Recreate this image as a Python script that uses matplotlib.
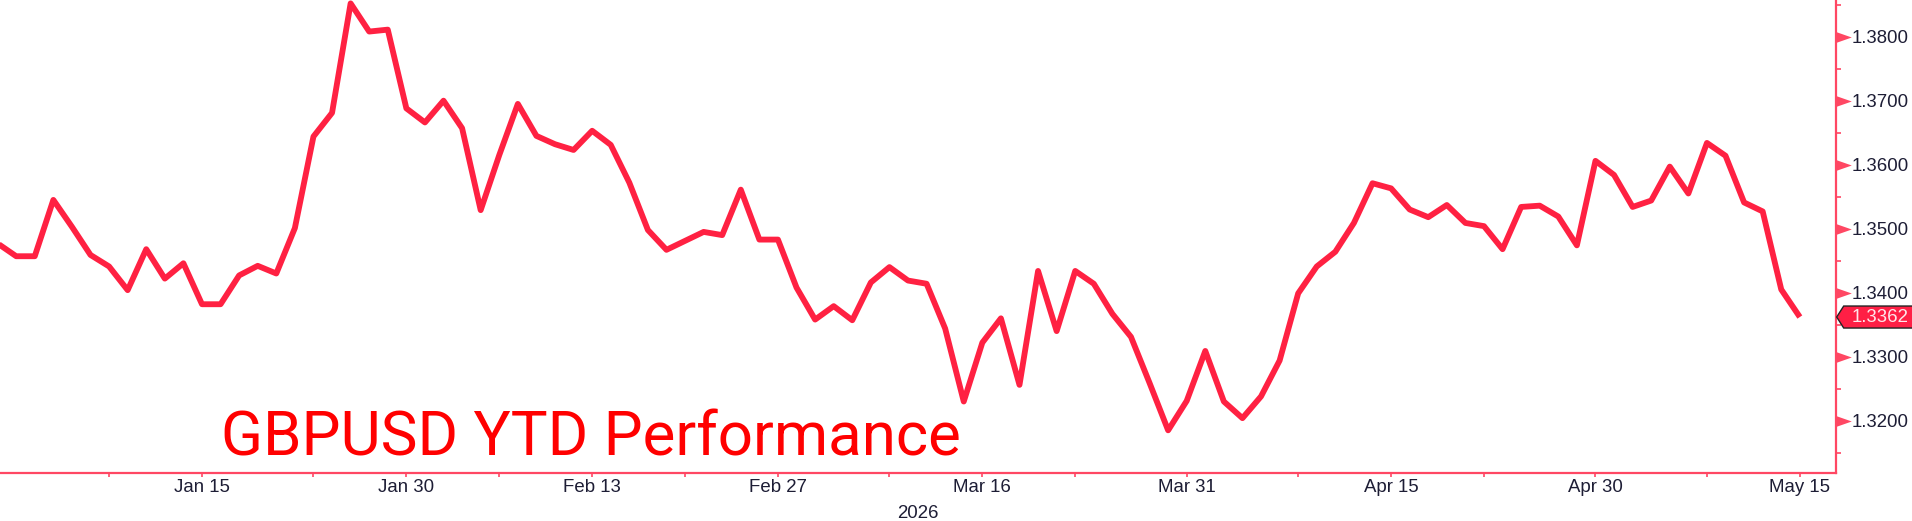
import numpy as np
import pandas as pd
import matplotlib
matplotlib.use("Agg")
import matplotlib.pyplot as plt
from matplotlib.patches import Polygon
from matplotlib.path import Path
from matplotlib.transforms import IdentityTransform
import matplotlib.ticker as mticker

# ---------------- data ----------------
dates = pd.bdate_range("2025-12-31", "2026-05-15")  # weekday series
values = [
    1.3477, 1.3457, 1.3457, 1.3545, 1.3503, 1.3459, 1.3441, 1.3404, 1.3468, 1.3422,
    1.3446, 1.3382, 1.3382, 1.3427, 1.3442, 1.3430, 1.3501, 1.3644, 1.3681, 1.3852,
    1.3808, 1.3811, 1.3688, 1.3666, 1.3700, 1.3657, 1.3529, 1.3615, 1.3695, 1.3645,
    1.3632, 1.3623, 1.3653, 1.3631, 1.3572, 1.3498, 1.3467, 1.3481, 1.3495, 1.3490,
    1.3561, 1.3483, 1.3483, 1.3408, 1.3358, 1.3379, 1.3357, 1.3416, 1.3440, 1.3419,
    1.3414, 1.3344, 1.3230, 1.3322, 1.3360, 1.3256, 1.3434, 1.3340, 1.3434, 1.3414,
    1.3367, 1.3331, 1.3259, 1.3185, 1.3231, 1.3309, 1.3230, 1.3204, 1.3238, 1.3294,
    1.3399, 1.3441, 1.3464, 1.3509, 1.3571, 1.3563, 1.3530, 1.3518, 1.3537, 1.3509,
    1.3504, 1.3468, 1.3534, 1.3536, 1.3519, 1.3474, 1.3606, 1.3584, 1.3534, 1.3544,
    1.3597, 1.3555, 1.3634, 1.3614, 1.3541, 1.3527, 1.3405, 1.3362,
]
major_tick_dates = ["2026-01-15", "2026-01-30", "2026-02-13", "2026-02-27", "2026-03-16",
                    "2026-03-31", "2026-04-15", "2026-04-30", "2026-05-15"]
major_tick_labels = ["Jan 15", "Jan 30", "Feb 13", "Feb 27", "Mar 16",
                     "Mar 31", "Apr 15", "Apr 30", "May 15"]
minor_tick_dates = ["2026-01-08", "2026-01-23", "2026-02-06", "2026-02-20", "2026-03-09",
                    "2026-03-23", "2026-04-08", "2026-04-22", "2026-05-08"]
y_major = [1.32, 1.33, 1.34, 1.35, 1.36, 1.37, 1.38]
y_minor = [1.315, 1.325, 1.335, 1.345, 1.355, 1.365, 1.375, 1.385]
title = "GBPUSD YTD Performance"
year_label = "2026"
last_value = values[-1]

# ---------------- style ----------------
W, H, DPI = 1912, 521, 100
LINE = "#ff2142"
SPINE = "#ff4763"
TXT = "#1d1d35"
FONT = "Liberation Sans"

fig = plt.figure(figsize=(W / DPI, H / DPI), dpi=DPI)
ax_left, ax_right = 0.0, 1835.7 / W
ax_bot = 472.7
ax = fig.add_axes([ax_left, 1 - ax_bot / H, ax_right - ax_left, ax_bot / H])

idx = {d: i for i, d in enumerate(dates)}
x = np.arange(len(dates))
ax.plot(x, values, color=LINE, lw=4.2, solid_joinstyle="round", solid_capstyle="butt", zorder=3)

ax.set_xlim(0.129, 98.93)
ax.set_ylim(1.31188, 1.38573)

# spines
for s in ["left", "top"]:
    ax.spines[s].set_visible(False)
for s in ["bottom", "right"]:
    ax.spines[s].set_color(SPINE)
    ax.spines[s].set_linewidth(1.6)

# x ticks
ax.set_xticks([idx[pd.Timestamp(d)] for d in major_tick_dates])
ax.set_xticklabels(major_tick_labels)
ax.set_xticks([idx[pd.Timestamp(d)] for d in minor_tick_dates], minor=True)
ax.tick_params(axis="x", which="both", direction="out", length=3.2, width=1.2,
               color=SPINE, pad=1.5, labelsize=13.4, labelcolor=TXT)
for lab in ax.get_xticklabels():
    lab.set_fontfamily(FONT)

# y ticks on right
ax.yaxis.tick_right()
ax.set_yticks(y_major)
ax.yaxis.set_major_formatter(mticker.FuncFormatter(lambda v, p: f"{v:.4f}"))
ax.set_yticks(y_minor, minor=True)
ax.tick_params(axis="y", which="major", length=0, pad=11.5, labelsize=13.4, labelcolor=TXT)
ax.tick_params(axis="y", which="minor", direction="out", length=3.6, width=1.2, color=SPINE)
for lab in ax.get_yticklabels():
    lab.set_fontfamily(FONT)

# triangular major tick markers
tri = Path([(0, -0.35), (1, 0), (0, 0.35), (0, -0.35)],
           [Path.MOVETO, Path.LINETO, Path.LINETO, Path.CLOSEPOLY])
ax.scatter([1.0] * len(y_major), y_major, marker=tri, s=22 ** 2, color=SPINE,
           linewidths=0, transform=ax.get_yaxis_transform(), clip_on=False, zorder=4)

# title text
ax.text(221 / 1835.7, (ax_bot - 455) / ax_bot, title, transform=ax.transAxes,
        ha="left", va="baseline", color="#ff0000", fontsize=44.6, fontfamily="Roboto")

# year label
ax.text(0.5, -(514 - ax_bot) / ax_bot, year_label, transform=ax.transAxes,
        ha="center", va="center", color=TXT, fontsize=13.4, fontfamily=FONT)

# last value box
xs, yc = ax.transAxes.transform((1.0, 0))[0], ax.transData.transform((0, last_value))[1]
hh = 11
poly = Polygon([(xs + 1, yc), (xs + 8, yc + hh), (W + 5, yc + hh), (W + 5, yc - hh),
                (xs + 8, yc - hh)], closed=True, facecolor="#ff1f45", edgecolor="#222222",
               lw=1.0, transform=IdentityTransform(), zorder=5)
fig.add_artist(poly)
fig.text((xs + 15.5) / W, yc / H, f"{last_value:.4f}", ha="left", va="center",
         color="#ffe6ea", fontsize=13.4, fontfamily=FONT, zorder=6)

fig.savefig("out.png", dpi=DPI)
